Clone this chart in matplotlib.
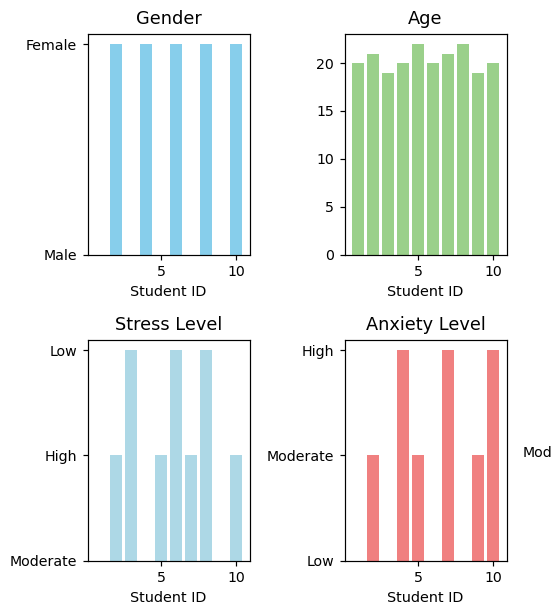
import matplotlib
matplotlib.use("Agg")
import matplotlib.pyplot as plt

# data: one row per student
student_id = [1, 2, 3, 4, 5, 6, 7, 8, 9, 10]
gender = ["Male", "Female", "Male", "Female", "Male",
          "Female", "Male", "Female", "Male", "Female"]
age = [20, 21, 19, 20, 22, 20, 21, 22, 19, 20]
stress = ["Moderate", "High", "Low", "Moderate", "High",
          "Low", "High", "Low", "Moderate", "High"]
anxiety = ["Low", "Moderate", "Low", "High", "Moderate",
           "Low", "High", "Low", "Moderate", "High"]

plt.rcParams["xtick.labelsize"] = 9.4
plt.rcParams["ytick.labelsize"] = 9.4
plt.rcParams["axes.labelsize"] = 9.6
plt.rcParams["axes.titlesize"] = 11.8

dpi = 108
fig = plt.figure(figsize=(552 / dpi, 608 / dpi), dpi=dpi)

# axes boxes in figure fractions (left, bottom, width, height)
W, H = 552, 608
def box(x0, y0, x1, y1):
    return [x0 / W, 1 - y1 / H, (x1 - x0) / W, (y1 - y0) / H]

ax1 = fig.add_axes(box(87.5, 33.5, 249.5, 254.5))
ax2 = fig.add_axes(box(344.5, 33.5, 506.5, 254.5))
ax3 = fig.add_axes(box(87.5, 339.5, 249.5, 560.5))
ax4 = fig.add_axes(box(344.5, 339.5, 506.5, 560.5))

ax1.bar(student_id, gender, color="skyblue")
ax1.set_title("Gender")

ax2.bar(student_id, age, color="#9ad08a")
ax2.set_title("Age")

ax3.bar(student_id, stress, color="lightblue")
ax3.set_title("Stress Level")

ax4.bar(student_id, anxiety, color="lightcoral")
ax4.set_title("Anxiety Level")

for ax in (ax1, ax2, ax3, ax4):
    ax.set_xlabel("Student ID")

# visible part of the next panel's tick label, at the picture edge
fig.text(523 / W, 1 - 453 / H, "Mod", ha="left", va="center", fontsize=9.4)

fig.savefig("out.png", dpi=dpi)
